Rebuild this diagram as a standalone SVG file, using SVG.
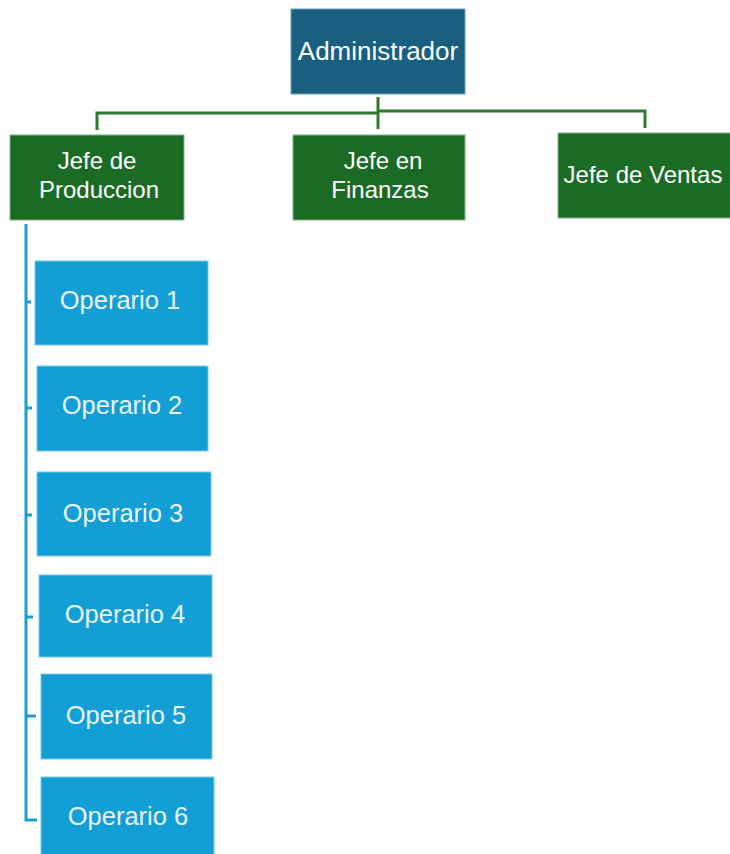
<svg xmlns="http://www.w3.org/2000/svg" width="730" height="854" viewBox="0 0 730 854">
  <style>
    .admin { fill: #185f80; stroke: #6f9fb8; stroke-width: 1; }
    .jefe { fill: #1c6b25; stroke: #7fb487; stroke-width: 1; }
    .op { fill: #139fd6; stroke: #7cc9ea; stroke-width: 1; }
    .lbl { fill: #ffffff; font-family: "Liberation Sans", Arial, sans-serif; font-size: 24px; text-anchor: middle; }
    .oplbl { fill: #eaf6fc; font-family: "Liberation Sans", Arial, sans-serif; font-size: 25.5px; text-anchor: middle; }
    .gline { fill: none; stroke: #2b7a2f; stroke-width: 3; }
    .bline { fill: none; stroke: #1a9ed6; stroke-width: 3; }
  </style>
  <rect width="730" height="854" fill="#ffffff"/>

  <!-- connectors -->
  <g id="connectors">
    <path class="gline" d="M378 97 V129"/>
    <path class="gline" d="M97 130 V113 H378"/>
    <path class="gline" d="M378 111 H645 V128"/>
    <path class="bline" d="M26 224 V820 H37"/>
    <path class="bline" d="M26 302 H31"/>
    <path class="bline" d="M26 408 H32"/>
    <path class="bline" d="M26 515 H32"/>
    <path class="bline" d="M26 617 H33"/>
    <path class="bline" d="M26 716 H36"/>
  </g>

  <g id="administrador">
    <rect class="admin" x="291" y="9" width="174" height="85"/>
    <text class="lbl" x="378" y="60" style="font-size:26px">Administrador</text>
  </g>

  <g id="jefe-produccion">
    <rect class="jefe" x="10" y="135" width="174" height="85"/>
    <text class="lbl" x="97" y="169">Jefe de</text>
    <text class="lbl" x="99" y="198">Produccion</text>
  </g>

  <g id="jefe-finanzas">
    <rect class="jefe" x="293" y="135" width="172" height="85"/>
    <text class="lbl" x="383" y="169">Jefe en</text>
    <text class="lbl" x="380" y="198">Finanzas</text>
  </g>

  <g id="jefe-ventas">
    <rect class="jefe" x="558" y="133" width="174" height="85"/>
    <text class="lbl" x="643" y="183">Jefe de Ventas</text>
  </g>

  <g id="operario-1">
    <rect class="op" x="35" y="261" width="173" height="84"/>
    <text class="oplbl" x="120" y="309">Operario 1</text>
  </g>
  <g id="operario-2">
    <rect class="op" x="37" y="366" width="171" height="85"/>
    <text class="oplbl" x="122" y="414">Operario 2</text>
  </g>
  <g id="operario-3">
    <rect class="op" x="37" y="472" width="174" height="84"/>
    <text class="oplbl" x="123" y="522">Operario 3</text>
  </g>
  <g id="operario-4">
    <rect class="op" x="39" y="575" width="173" height="82"/>
    <text class="oplbl" x="125" y="623">Operario 4</text>
  </g>
  <g id="operario-5">
    <rect class="op" x="41" y="674" width="171" height="85"/>
    <text class="oplbl" x="126" y="724">Operario 5</text>
  </g>
  <g id="operario-6">
    <rect class="op" x="41" y="777" width="173" height="80"/>
    <text class="oplbl" x="128" y="825">Operario 6</text>
  </g>
</svg>
